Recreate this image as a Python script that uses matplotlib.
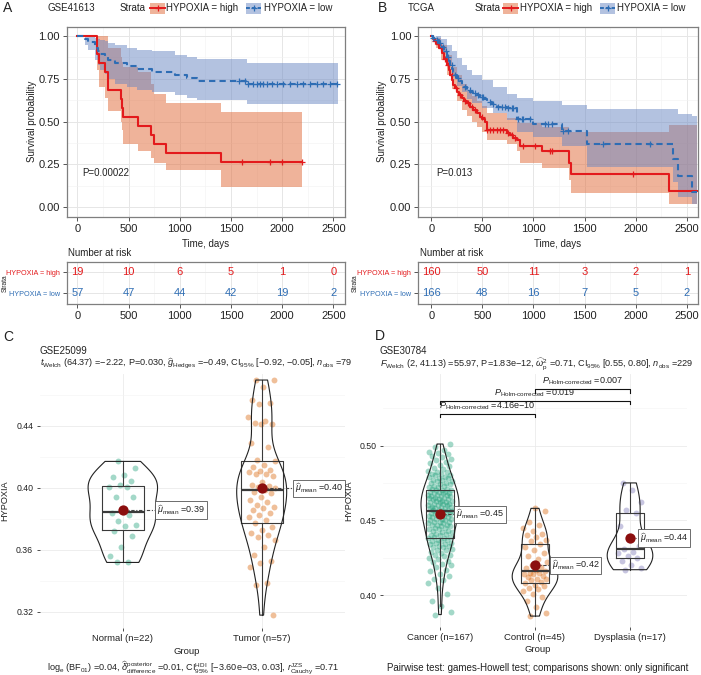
import matplotlib
matplotlib.use("Agg")
import matplotlib.pyplot as plt
import numpy as np
from matplotlib.patches import Rectangle
from matplotlib.lines import Line2D

plt.rcParams['font.family'] = ['Liberation Sans', 'DejaVu Sans']
plt.rcParams['mathtext.fontset'] = 'custom'
plt.rcParams['mathtext.rm'] = 'Liberation Sans'
plt.rcParams['mathtext.it'] = 'Liberation Sans:italic'
plt.rcParams['mathtext.bf'] = 'Liberation Sans:bold'

# ---------------- data ----------------
# Panel A: GSE41613 Kaplan-Meier
a_high_time = [0, 189, 214, 270, 303, 427, 440, 450, 596, 716, 749, 863, 1400]
a_high_surv = [1.0, 0.895, 0.842, 0.789, 0.684, 0.632, 0.579, 0.526, 0.474, 0.421, 0.368, 0.316, 0.263]
a_high_lower = [1.0, 0.80, 0.70, 0.64, 0.56, 0.50, 0.45, 0.37, 0.33, 0.29, 0.26, 0.22, 0.12]
a_high_upper = [1.0, 1.0, 1.0, 1.0, 0.93, 0.88, 0.85, 0.82, 0.79, 0.72, 0.66, 0.61, 0.555]
a_high_cens = [1611, 1881, 1995, 2191]
a_high_end = 2191

a_low_time = [0, 75, 105, 173, 200, 221, 270, 300, 368, 482, 580, 726, 954, 1068, 1166, 1654]
a_low_surv = [1.0, 0.982, 0.965, 0.93, 0.912, 0.895, 0.877, 0.86, 0.842, 0.825, 0.807, 0.789, 0.772, 0.754, 0.737, 0.719]
a_low_lower = [1.0, 0.95, 0.92, 0.86, 0.83, 0.80, 0.78, 0.75, 0.72, 0.70, 0.685, 0.67, 0.655, 0.64, 0.625, 0.605]
a_low_upper = [1.0, 1.0, 1.0, 0.99, 0.98, 0.977, 0.97, 0.957, 0.945, 0.928, 0.92, 0.91, 0.889, 0.875, 0.864, 0.842]
a_low_cens = [1582, 1637, 1670, 1719, 1751, 1784, 1816, 1849, 1898, 1947, 2012,
              2077, 2142, 2207, 2272, 2337, 2402, 2467, 2533]
a_low_end = 2549

a_risk_high = [19, 10, 6, 5, 1, 0]
a_risk_low = [57, 47, 44, 42, 19, 2]

# Panel B: TCGA Kaplan-Meier
b_high_time = [0, 15, 30, 52, 75, 101, 125, 150, 170, 183, 200, 215, 230, 248, 270, 297, 320,
               346, 380, 411, 445, 476, 500, 525, 542, 738, 770, 800, 836, 868, 1080, 1351,
               1364, 2327]
b_high_surv = [1.0, 0.985, 0.97, 0.955, 0.93, 0.90, 0.865, 0.83, 0.80, 0.77, 0.74, 0.714,
               0.695, 0.675, 0.655, 0.636, 0.62, 0.607, 0.588, 0.568, 0.548, 0.529, 0.515,
               0.50, 0.451, 0.435, 0.42, 0.405, 0.393, 0.36, 0.33, 0.257, 0.193, 0.095]
b_high_band_time = [0, 50, 100, 150, 200, 250, 300, 350, 400, 450, 500, 542, 738, 836, 868,
                    1080, 1351, 1364, 2327]
b_high_lower = [1.0, 0.93, 0.86, 0.77, 0.69, 0.62, 0.57, 0.53, 0.50, 0.47, 0.44, 0.39, 0.37,
                0.33, 0.26, 0.23, 0.16, 0.085, 0.02]
b_high_upper = [1.0, 0.99, 0.95, 0.89, 0.82, 0.77, 0.72, 0.68, 0.65, 0.62, 0.59, 0.55, 0.52,
                0.50, 0.49, 0.47, 0.45, 0.44, 0.48]
b_high_cens = [36, 69, 91, 134, 166, 199, 242, 281, 330, 362, 395, 428, 493, 542, 574, 607,
               640, 672, 705, 754, 787, 819, 901, 1015, 1162, 1178, 1978]
b_high_end = 2600

b_low_time = [0, 20, 52, 75, 101, 125, 150, 170, 183, 200, 215, 230, 248, 270, 297, 320, 346,
              380, 411, 445, 476, 510, 542, 590, 640, 738, 836, 998, 1276, 1521, 2369, 2418,
              2554]
b_low_surv = [1.0, 0.99, 0.977, 0.96, 0.938, 0.91, 0.879, 0.855, 0.831, 0.81, 0.792, 0.772,
              0.753, 0.735, 0.714, 0.70, 0.685, 0.675, 0.665, 0.655, 0.646, 0.632, 0.617,
              0.60, 0.588, 0.578, 0.514, 0.484, 0.447, 0.37, 0.28, 0.183, 0.09]
b_low_band_time = [0, 50, 100, 150, 200, 250, 300, 350, 400, 500, 600, 738, 836, 998, 1276,
                   1521, 2369, 2418, 2554]
b_low_lower = [1.0, 0.96, 0.90, 0.83, 0.77, 0.71, 0.67, 0.63, 0.61, 0.58, 0.55, 0.51, 0.44,
               0.41, 0.36, 0.237, 0.15, 0.062, 0.02]
b_low_upper = [1.0, 1.0, 0.98, 0.95, 0.91, 0.87, 0.83, 0.80, 0.77, 0.74, 0.70, 0.66, 0.64,
               0.622, 0.597, 0.572, 0.572, 0.545, 0.533]
b_low_cens = [20, 59, 85, 117, 144, 166, 199, 232, 264, 330, 379, 428, 460, 493, 509, 574,
              607, 656, 689, 721, 754, 787, 803, 852, 884, 901, 966, 1113, 1146, 1178, 1292,
              1341, 1684, 2141]
b_low_end = 2600

b_risk_high = [160, 50, 11, 3, 2, 1]
b_risk_low = [166, 48, 16, 7, 5, 2]

risk_times = [0, 500, 1000, 1500, 2000, 2500]
strata_labels = ["HYPOXIA = high", "HYPOXIA = low"]

# Panel C: GSE25099
c_groups = ["Normal", "Tumor"]
c_normal = [0.417, 0.4125, 0.408, 0.4067, 0.4045, 0.4017, 0.4006, 0.4002, 0.394, 0.3938,
            0.3856, 0.3834, 0.3824, 0.3787, 0.376, 0.3753, 0.3723, 0.3688, 0.3615, 0.356,
            0.3523, 0.3518]
c_tumor = [0.4695, 0.4695, 0.4652, 0.4566, 0.455, 0.454, 0.4458, 0.443, 0.442, 0.441,
           0.441, 0.429, 0.4265, 0.418, 0.417, 0.4146, 0.4135, 0.4114, 0.411, 0.410,
           0.409, 0.409, 0.4075, 0.404, 0.4017, 0.401, 0.4006, 0.3996, 0.3985, 0.397,
           0.3963, 0.394, 0.392, 0.391, 0.389, 0.3877, 0.3867, 0.3856, 0.3834, 0.3824,
           0.3813, 0.379, 0.377, 0.3748, 0.3727, 0.3705, 0.3695, 0.3684, 0.3662, 0.3619,
           0.3566, 0.353, 0.3512, 0.349, 0.3383, 0.3372, 0.3178]

# Panel D: GSE30784
d_groups = ["Cancer", "Control", "Dysplasia"]
d_cancer = [0.387, 0.389, 0.393, 0.396, 0.401, 0.405, 0.408, 0.410, 0.411, 0.413, 0.414,
            0.416, 0.417, 0.419,
            0.420, 0.421, 0.422, 0.423, 0.424, 0.425, 0.426, 0.427, 0.427, 0.428, 0.429,
            0.430, 0.430, 0.431, 0.432, 0.432, 0.433, 0.433, 0.434, 0.434, 0.435, 0.435,
            0.436, 0.436, 0.437, 0.437, 0.438, 0.438,
            0.439, 0.439, 0.440, 0.440, 0.441, 0.441, 0.442, 0.442, 0.443, 0.443, 0.444,
            0.444, 0.445, 0.445, 0.446, 0.446, 0.447, 0.447, 0.447, 0.448, 0.448, 0.449,
            0.449, 0.449, 0.450, 0.450, 0.451, 0.451, 0.451, 0.452, 0.452, 0.453, 0.453,
            0.453, 0.454, 0.454, 0.454, 0.455, 0.455, 0.455, 0.456, 0.456,
            0.457, 0.457, 0.457, 0.458, 0.458, 0.458, 0.459, 0.459, 0.459, 0.460, 0.460,
            0.460, 0.461, 0.461, 0.461, 0.462, 0.462, 0.462, 0.463, 0.463, 0.463, 0.464,
            0.464, 0.464, 0.465, 0.465, 0.465, 0.466, 0.466, 0.466, 0.467, 0.467, 0.467,
            0.468, 0.468, 0.468, 0.469, 0.469, 0.469, 0.470, 0.470, 0.470,
            0.471, 0.471, 0.472, 0.472, 0.473, 0.473, 0.474, 0.474, 0.475, 0.475, 0.476,
            0.476, 0.477, 0.477, 0.478, 0.478, 0.479, 0.479, 0.480, 0.480, 0.481, 0.481,
            0.482, 0.482, 0.483, 0.484, 0.485, 0.486, 0.487, 0.488, 0.489, 0.490, 0.491,
            0.492, 0.493, 0.494, 0.495, 0.496, 0.497, 0.499, 0.501]
d_control = [0.386, 0.388, 0.392, 0.396, 0.399, 0.401, 0.403, 0.404, 0.405, 0.406, 0.407,
             0.408, 0.409, 0.410, 0.411, 0.411, 0.412, 0.413, 0.414, 0.414, 0.415, 0.415,
             0.416, 0.417, 0.418, 0.419, 0.420, 0.422, 0.424, 0.426, 0.428, 0.430, 0.432,
             0.434, 0.436, 0.437, 0.439, 0.440, 0.441, 0.443, 0.445, 0.447, 0.449, 0.456,
             0.458]
d_dysplasia = [0.417, 0.418, 0.420, 0.423, 0.425, 0.426, 0.428, 0.429, 0.431, 0.433, 0.437,
               0.446, 0.455, 0.457, 0.462, 0.470, 0.475]
d_pairs = [(2, 3), (1, 3), (1, 2)]
d_pair_p = ["0.007", "0.019", "4.16e$-$10"]
d_pair_y = [0.5376, 0.5297, 0.5211]

# ---------------- styling ----------------
RED = "#E31A1C"
BLUE = "#2E6DB4"
RED_FILL = "#E16937"
BLUE_FILL = "#6987C3"
DARK2 = ["#1B9E77", "#D95F02", "#7570B3"]
TXT = "#222222"

W, H = 701, 675
fig = plt.figure(figsize=(W / 100, H / 100), dpi=100)


def px_axes(l, t, r, b):
    return fig.add_axes([l / W, 1 - b / H, (r - l) / W, (b - t) / H])


def ftext(x, y, s, **kw):
    kw.setdefault("color", TXT)
    fig.text(x / W, 1 - y / H, s, **kw)


def step_at(t, s, x):
    idx = np.searchsorted(t, x, side="right") - 1
    return np.asarray(s)[idx]


def draw_km(ax, groups, xlim, pval):
    for g in groups:
        bt = list(g["bt"]) + [g["end"]]
        lo = list(g["lo"]) + [g["lo"][-1]]
        hi = list(g["hi"]) + [g["hi"][-1]]
        ax.fill_between(bt, lo, hi, step="post", color=g["fill"], alpha=0.5, lw=0)
    for g in groups:
        t = list(g["t"]) + [g["end"]]
        s = list(g["s"]) + [g["s"][-1]]
        ax.step(t, s, where="post", color=g["color"], lw=1.5, ls=g["ls"])
        cy = step_at(g["t"], g["s"], g["cens"])
        ax.plot(g["cens"], cy, ls="none", marker="+", ms=5, mew=0.9, color=g["color"])
    ax.set_xlim(xlim)
    ax.set_ylim(-0.055, 1.054)
    ax.set_xticks(risk_times)
    ax.set_xticks([250, 750, 1250, 1750, 2250], minor=True)
    ax.set_yticks([0, 0.25, 0.5, 0.75, 1.0])
    ax.set_yticklabels(["0.00", "0.25", "0.50", "0.75", "1.00"])
    ax.set_yticks([0.125, 0.375, 0.625, 0.875], minor=True)
    ax.grid(which="major", color="#E6E6E6", lw=0.7)
    ax.grid(which="minor", color="#F2F2F2", lw=0.4)
    ax.set_axisbelow(True)
    for sp in ax.spines.values():
        sp.set_color("#7F7F7F")
        sp.set_linewidth(0.9)
    ax.tick_params(which="major", length=3, width=0.7, color="#555555", labelsize=8,
                   pad=2, labelcolor=TXT)
    ax.tick_params(which="minor", length=0)
    ax.text(46, 0.2, pval, fontsize=7, color=TXT, va="center", ha="left")


def draw_risk(ax, high, low, xlim):
    for x, n in zip(risk_times, high):
        ax.text(x, 2, str(n), color=RED, fontsize=8, ha="center", va="center")
    for x, n in zip(risk_times, low):
        ax.text(x, 1, str(n), color=BLUE, fontsize=8, ha="center", va="center")
    ax.set_xlim(xlim)
    ax.set_ylim(0.5, 2.5)
    ax.set_xticks(risk_times)
    ax.set_xticks([250, 750, 1250, 1750, 2250], minor=True)
    ax.set_yticks([2, 1])
    ax.set_yticklabels(strata_labels, fontsize=5.2)
    for lab, c in zip(ax.get_yticklabels(), [RED, BLUE]):
        lab.set_color(c)
    ax.grid(which="major", color="#E6E6E6", lw=0.7)
    ax.grid(which="minor", axis="x", color="#F2F2F2", lw=0.4)
    ax.set_axisbelow(True)
    for sp in ax.spines.values():
        sp.set_color("#7F7F7F")
        sp.set_linewidth(0.9)
    ax.tick_params(which="major", length=3, width=0.7, color="#555555", pad=2)
    ax.tick_params(axis="x", labelsize=8, labelcolor=TXT)
    ax.tick_params(which="minor", length=0)


def header(letter, lx, name, nx, sx, k1, t1, k2, t2):
    ftext(lx, 8, letter, fontsize=10, va="center")
    ftext(nx, 8, name, fontsize=7, va="center")
    ftext(sx, 8, "Strata", fontsize=7, va="center")
    for kx, tx, lab, col, fc, ls in [(k1, t1, strata_labels[0], RED, RED_FILL, "-"),
                                     (k2, t2, strata_labels[1], BLUE, BLUE_FILL, (0, (2, 1)))]:
        fig.add_artist(Rectangle((kx / W, 1 - 13.5 / H), 15 / W, 11 / H,
                                 transform=fig.transFigure, facecolor=fc, alpha=0.5, lw=0))
        fig.add_artist(Line2D([kx / W, (kx + 15) / W], [1 - 8 / H, 1 - 8 / H],
                              transform=fig.transFigure, color=col, lw=1.4, ls=ls))
        fig.add_artist(Line2D([(kx + 7.5) / W], [1 - 8 / H], transform=fig.transFigure,
                              color=col, marker="+", ms=5, mew=0.9))
        ftext(tx, 8, lab, fontsize=7, va="center")


# ---------------- panel A ----------------
a_xlim = (-103.5, 2614)
axA = px_axes(66.7, 26.7, 345, 216.7)
draw_km(axA, [
    dict(t=a_high_time, s=a_high_surv, bt=a_high_time, lo=a_high_lower, hi=a_high_upper,
         cens=a_high_cens, end=a_high_end, color=RED, fill=RED_FILL, ls="-"),
    dict(t=a_low_time, s=a_low_surv, bt=a_low_time, lo=a_low_lower, hi=a_low_upper,
         cens=a_low_cens, end=a_low_end, color=BLUE, fill=BLUE_FILL, ls=(0, (3, 2))),
], a_xlim, "P=0.00022")
axAr = px_axes(66.7, 261.7, 345, 304)
draw_risk(axAr, a_risk_high, a_risk_low, a_xlim)
header("A", 3, "GSE41613", 48, 120, 150, 166, 246, 264)
ftext(31.7, 121.7, "Survival probability", fontsize=7, rotation=90, ha="center", va="center")
ftext(205.8, 244, "Time, days", fontsize=7, ha="center", va="center")
ftext(68, 253, "Number at risk", fontsize=7, ha="left", va="center")
ftext(5, 283, "Strata", fontsize=4.8, rotation=90, ha="center", va="center")

# ---------------- panel B ----------------
b_xlim = (-127, 2610)
axB = px_axes(418.3, 26.7, 698, 216.7)
draw_km(axB, [
    dict(t=b_high_time, s=b_high_surv, bt=b_high_band_time, lo=b_high_lower, hi=b_high_upper,
         cens=b_high_cens, end=b_high_end, color=RED, fill=RED_FILL, ls="-"),
    dict(t=b_low_time, s=b_low_surv, bt=b_low_band_time, lo=b_low_lower, hi=b_low_upper,
         cens=b_low_cens, end=b_low_end, color=BLUE, fill=BLUE_FILL, ls=(0, (3, 2))),
], b_xlim, "P=0.013")
axBr = px_axes(418.3, 261.7, 698, 304)
draw_risk(axBr, b_risk_high, b_risk_low, b_xlim)
header("B", 378, "TCGA", 408, 475, 503, 520, 600, 617)
ftext(381.7, 121.7, "Survival probability", fontsize=7, rotation=90, ha="center", va="center")
ftext(558, 244, "Time, days", fontsize=7, ha="center", va="center")
ftext(420, 253, "Number at risk", fontsize=7, ha="left", va="center")
ftext(355, 283, "Strata", fontsize=4.8, rotation=90, ha="center", va="center")


# ---------------- violin panels ----------------
def jitter(n, w):
    return ((np.arange(n) * 0.6180339887 + 0.31) % 1.0 - 0.5) * 2 * w


def draw_violins(ax, data, colors, widths, jw, label_dx):
    for i, vals in enumerate(data):
        pos = i + 1
        v = np.asarray(vals)
        sd = v.std(ddof=1)
        q1, q3 = np.percentile(v, [25, 75])
        bw = 0.9 * min(sd, (q3 - q1) / 1.34) * len(v) ** -0.2
        ax.scatter(pos + jitter(len(v), jw), v, s=18, color=colors[i], alpha=0.4, lw=0,
                   zorder=2)
        ax.boxplot([v], positions=[pos], widths=0.3, showfliers=False, showcaps=False,
                   manage_ticks=False, zorder=3,
                   boxprops=dict(color="#3A3A3A", lw=0.8),
                   whiskerprops=dict(color="#3A3A3A", lw=0.8),
                   medianprops=dict(color="#3A3A3A", lw=1.6))
        vp = ax.violinplot([v], positions=[pos], widths=widths[i], showextrema=False,
                           bw_method=bw / sd, points=300)
        for body in vp["bodies"]:
            body.set_facecolor("none")
            body.set_edgecolor("#222222")
            body.set_linewidth(0.8)
            body.set_alpha(1)
            body.set_zorder(4)
        m = v.mean()
        lx = pos + label_dx[i]
        ax.plot([pos, lx], [m, m], color="#444444", lw=0.8, ls=(0, (3, 1.5, 1, 1.5)),
                zorder=5)
        ax.scatter([pos], [m], s=55, color="#8B0E0E", zorder=6, lw=0)
        ax.text(lx, m, r"$\widehat{\mu}_{\mathrm{mean}}$ =%.2f" % m, fontsize=6.5,
                color=TXT, va="center", ha="left", zorder=7,
                bbox=dict(boxstyle="square,pad=0.2", fc="white", ec="#555555", lw=0.6))


def style_violin_ax(ax, xlim, ylim, yticks, yminor, labels):
    ax.set_xlim(xlim)
    ax.set_ylim(ylim)
    ax.set_xticks(range(1, len(labels) + 1))
    ax.set_xticklabels(labels, fontsize=6.8)
    ax.set_yticks(yticks)
    ax.set_yticklabels(["%.2f" % y for y in yticks])
    ax.set_yticks(yminor, minor=True)
    ax.grid(which="major", color="#EBEBEB", lw=0.6)
    ax.grid(which="minor", axis="y", color="#F3F3F3", lw=0.4)
    ax.set_axisbelow(True)
    for sp in ax.spines.values():
        sp.set_visible(False)
    ax.tick_params(which="major", length=2.5, width=0.6, color="#333333", labelsize=6.3,
                   pad=2, labelcolor=TXT)
    ax.tick_params(axis="x", labelsize=6.8)
    ax.tick_params(which="minor", length=0)


# panel C
axC = px_axes(39.5, 374, 345, 628)
draw_violins(axC, [c_normal, c_tumor], DARK2[:2], [0.5, 0.36], 0.1, [0.248, 0.24])
style_violin_ax(axC, (0.4, 2.6), (0.3095, 0.4734), [0.32, 0.36, 0.40, 0.44],
                [0.34, 0.38, 0.42, 0.46],
                ["%s (n=%d)" % (g, len(v)) for g, v in zip(c_groups, [c_normal, c_tumor])])
ftext(3, 337, "C", fontsize=10, va="center")
ftext(40, 350.5, "GSE25099", fontsize=7, va="center")
ftext(40, 364, r"$t_{\mathrm{Welch}}$ (64.37) =$-$2.22, P=0.030, "
      r"$\widehat{g}_{\mathrm{Hedges}}$ =$-$0.49, CI$_{95\%}$ [$-$0.92, $-$0.05], "
      r"$n_{\mathrm{obs}}$ =79", fontsize=6.6, va="center")
ftext(5, 501, "HYPOXIA", fontsize=6.6, rotation=90, ha="center", va="center")
ftext(187, 652, "Group", fontsize=6.8, ha="center", va="center")
ftext(193, 668, r"log$_{\mathrm{e}}$ (BF$_{01}$) =0.04, "
      r"$\widehat{\delta}_{\mathrm{difference}}^{\mathrm{posterior}}$ =0.01, "
      r"CI$_{95\%}^{\mathrm{HDI}}$ [$-$3.60e$-$03, 0.03], "
      r"$r_{\mathrm{Cauchy}}^{\mathrm{JZS}}$ =0.71", fontsize=6.6, ha="center", va="center")

# panel D
axD = px_axes(383, 374, 687, 627)
draw_violins(axD, [d_cancer, d_control, d_dysplasia], DARK2, [0.4, 0.48, 0.48], 0.13,
             [0.168, 0.175, 0.105])
style_violin_ax(axD, (0.4, 3.6), (0.3787, 0.5478), [0.40, 0.45, 0.50], [0.425, 0.475, 0.525],
                ["%s (n=%d)" % (g, len(v)) for g, v in
                 zip(d_groups, [d_cancer, d_control, d_dysplasia])])
for (i, j), p, y in zip(d_pairs, d_pair_p, d_pair_y):
    tick = 0.0022
    axD.plot([i, i, j, j], [y - tick, y, y, y - tick], color="#111111", lw=0.8, zorder=8,
             clip_on=False)
    axD.text((i + j) / 2, y + 0.0012, "$P_{\\mathrm{Holm\u2010corrected}}$ =" + p,
             fontsize=6.5, ha="center", va="bottom", color=TXT, clip_on=False)
ftext(375, 336, "D", fontsize=10, va="center")
ftext(380, 350.5, "GSE30784", fontsize=7, va="center")
ftext(380, 364, r"$F_{\mathrm{Welch}}$ (2, 41.13) =55.97, P=1.83e$-$12, "
      r"$\widehat{\omega}_{\mathrm{p}}^{2}$ =0.71, CI$_{95\%}$ [0.55, 0.80], "
      r"$n_{\mathrm{obs}}$ =229", fontsize=6.6, va="center")
ftext(348.5, 501, "HYPOXIA", fontsize=6.6, rotation=90, ha="center", va="center")
ftext(538, 649, "Group", fontsize=6.8, ha="center", va="center")
ftext(538, 668, "Pairwise test: games-Howell test; comparisons shown: only significant",
      fontsize=7.0, ha="center", va="center")

fig.savefig("out.png", dpi=100)
